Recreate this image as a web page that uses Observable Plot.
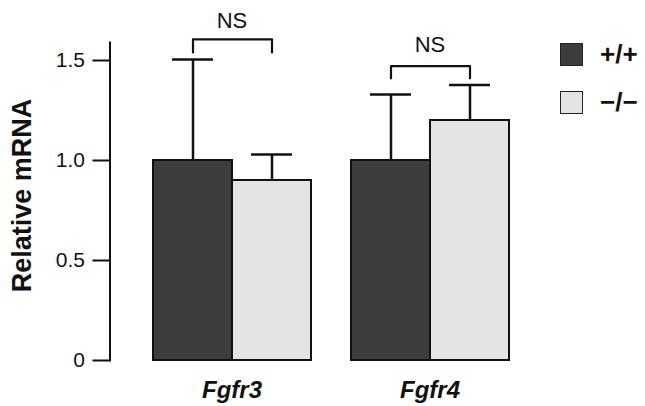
<!DOCTYPE html>
<html>
<head>
<meta charset="utf-8">
<script src="https://cdn.jsdelivr.net/npm/d3@7"></script>
<script src="https://cdn.jsdelivr.net/npm/@observablehq/plot@0.6"></script>
<style>
  html, body { margin: 0; padding: 0; background: #fff; }
  #wrap { position: relative; width: 645px; height: 406px; font-family: "Liberation Sans", Arial, sans-serif; }
  #legend { position: absolute; left: 560px; top: 42px; }
  .item { display: flex; align-items: center; height: 24px; margin-bottom: 24px; }
  .sw { width: 21px; height: 21px; border: 1.5px solid #222; box-sizing: content-box; }
  .lab { margin-left: 17px; font-weight: bold; font-size: 26px; color: #111; }
</style>
</head>
<body>
<div id="wrap"></div>
<script>
const genes = ["Fgfr3", "Fgfr4"];
const genotypes = ["+/+", "\u2212/\u2212"];
const colors = ["#3c3c3c", "#e4e4e4"];
const meanWT = [1.0, 1.0];
const meanKO = [0.9, 1.2];
const upperWT = [1.505, 1.33];
const upperKO = [1.03, 1.378];
const bracketTop = [1.606, 1.472];
const bracketLeg = [1.54, 1.411];
const nsY = [1.70, 1.577];
const nsText = ["NS", "NS"];
const yTicks = [0, 0.5, 1.0, 1.5];
const yLabel = "Relative mRNA";

const rows = [];
genes.forEach((g, i) => {
  rows.push({gene: g, geno: genotypes[0], mean: meanWT[i], upper: upperWT[i]});
  rows.push({gene: g, geno: genotypes[1], mean: meanKO[i], upper: upperKO[i]});
});
const bracketPts = [];
genes.forEach((g, i) => {
  bracketPts.push({gene: g, geno: genotypes[0], y: bracketLeg[i]});
  bracketPts.push({gene: g, geno: genotypes[0], y: bracketTop[i]});
  bracketPts.push({gene: g, geno: genotypes[1], y: bracketTop[i]});
  bracketPts.push({gene: g, geno: genotypes[1], y: bracketLeg[i]});
});
const nsRows = genes.map((g, i) => ({gene: g, y: nsY[i], text: nsText[i]}));

const font = "Liberation Sans, Arial, sans-serif";
const chart = Plot.plot({
  width: 645,
  height: 406,
  marginLeft: 109,
  marginRight: 94,
  marginTop: 42,
  marginBottom: 46,
  style: {fontFamily: font, fontSize: "21px", color: "#111", background: "#fff", overflow: "visible"},
  fx: {domain: genes, paddingInner: 0.199, paddingOuter: 0.214, label: null},
  x: {domain: genotypes, padding: 0, axis: null},
  y: {domain: [0, 1.59], axis: null},
  marks: [
    Plot.ruleX(rows, {fx: "gene", x: "geno", y1: "mean", y2: "upper", stroke: "#111", strokeWidth: 2.5}),
    Plot.tickY(rows, {fx: "gene", x: "geno", y: "upper", stroke: "#111", strokeWidth: 2.5, insetLeft: 19, insetRight: 19}),
    Plot.barY(rows, {fx: "gene", x: "geno", y: "mean", fill: (d, i) => colors[genotypes.indexOf(d.geno)], stroke: "#111", strokeWidth: 2}),
    Plot.line(bracketPts, {fx: "gene", x: "geno", y: "y", z: "gene", stroke: "#111", strokeWidth: 2.2, clip: false}),
    Plot.text(nsRows, {fx: "gene", y: "y", text: "text", frameAnchor: "middle", fontSize: 22, fill: "#111"}),
    Plot.frame({anchor: "left", facetAnchor: "left", dx: -42.5, stroke: "#111", strokeWidth: 2}),
    Plot.axisY({ticks: yTicks, tickSize: 17, tickPadding: 8, tickFormat: d => d === 0 ? "0" : d.toFixed(1), facetAnchor: "left", dx: -42.5, fontSize: 21, strokeWidth: 2, stroke: "#111", label: null}),
    Plot.text([yLabel], {frameAnchor: "left", facetAnchor: "left", rotate: -90, textAnchor: "middle", lineAnchor: "middle", dx: -130, dy: -6, fontSize: 27, fontWeight: "bold", fill: "#111"}),
    Plot.axisFx({anchor: "bottom", tickSize: 0, tickPadding: 20, fontSize: 24, fontWeight: "bold", fontStyle: "italic", label: null})
  ]
});
const wrap = document.getElementById("wrap");
wrap.appendChild(chart);
const legend = document.createElement("div");
legend.id = "legend";
genotypes.forEach((g, i) => {
  const item = document.createElement("div");
  item.className = "item";
  const sw = document.createElement("div");
  sw.className = "sw";
  sw.style.background = colors[i];
  const lab = document.createElement("span");
  lab.className = "lab";
  lab.textContent = g;
  item.appendChild(sw);
  item.appendChild(lab);
  legend.appendChild(item);
});
wrap.appendChild(legend);
</script>
</body>
</html>
